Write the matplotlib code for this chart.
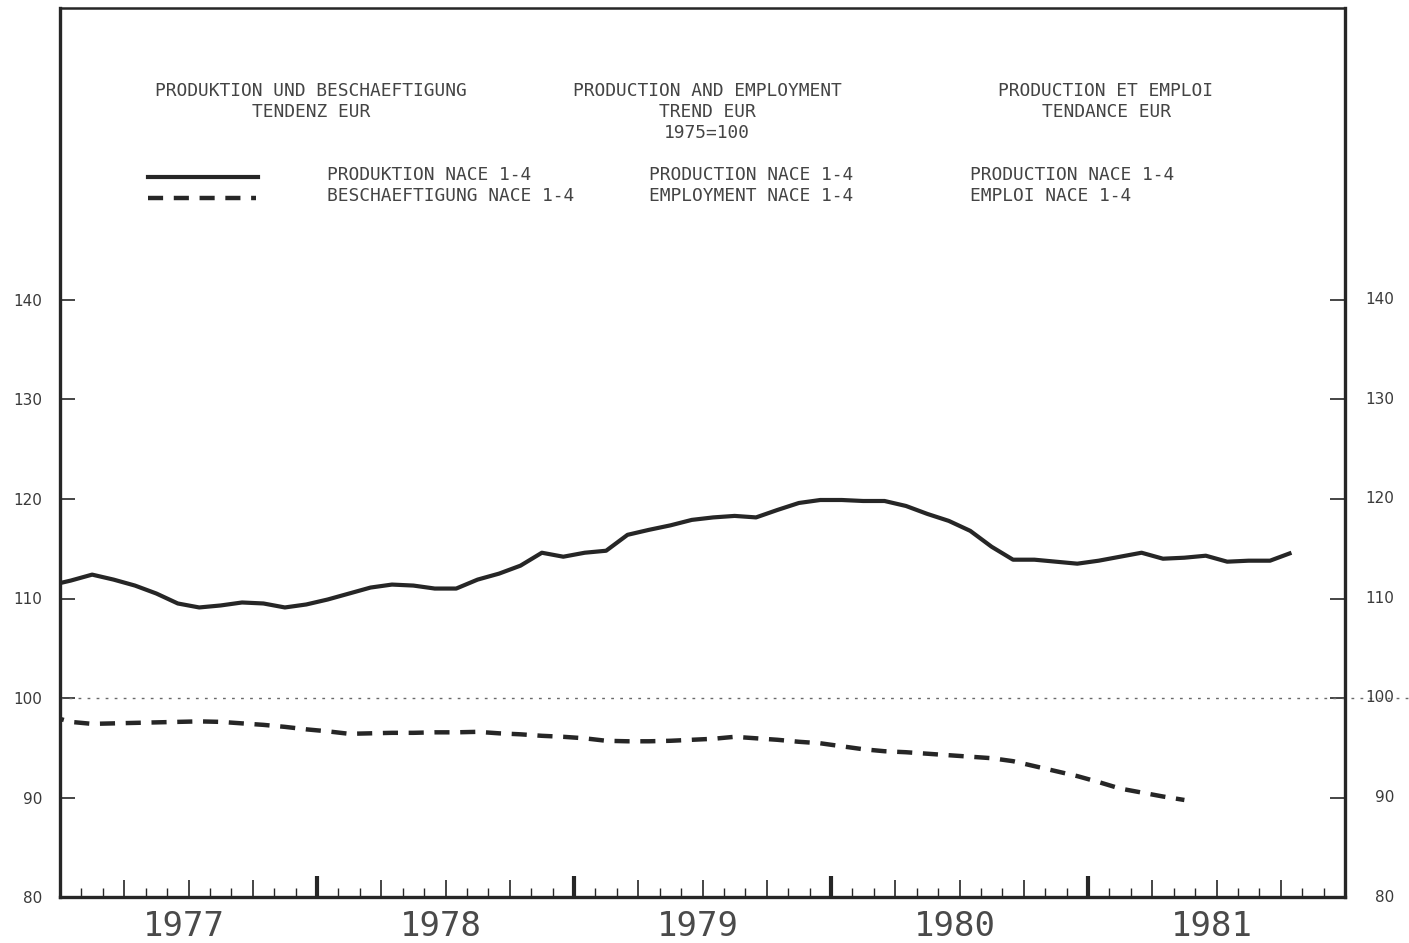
import numpy as np
import matplotlib
matplotlib.use("Agg")
import matplotlib.pyplot as plt
from matplotlib.lines import Line2D
from matplotlib.transforms import blended_transform_factory

# monthly trend values, first value = Dec 1976, plotted at mid-month
production = [111.3, 111.8, 112.4, 111.9, 111.3, 110.5, 109.5, 109.1, 109.3, 109.6, 109.5, 109.1, 109.4,
              109.9, 110.5, 111.1, 111.4, 111.3, 111.0, 111.0, 111.9, 112.5, 113.3, 114.6, 114.2,
              114.6, 114.8, 116.4, 116.9, 117.35, 117.9, 118.15, 118.3, 118.15, 118.9, 119.6, 119.9,
              119.9, 119.8, 119.8, 119.3, 118.5, 117.8, 116.8, 115.2, 113.9, 113.9, 113.7, 113.5,
              113.8, 114.2, 114.6, 114.0, 114.1, 114.3, 113.7, 113.8, 113.8, 114.6]
employment = [98.2, 97.6, 97.4, 97.45, 97.5, 97.55, 97.6, 97.65, 97.6, 97.45, 97.3, 97.1, 96.85,
              96.65, 96.4, 96.45, 96.5, 96.5, 96.55, 96.55, 96.6, 96.45, 96.35, 96.2, 96.1,
              95.95, 95.7, 95.65, 95.65, 95.7, 95.8, 95.9, 96.1, 95.95, 95.8, 95.6, 95.45,
              95.15, 94.85, 94.65, 94.55, 94.4, 94.25, 94.1, 93.95, 93.65, 93.15, 92.65, 92.15,
              91.55, 90.9, 90.5, 90.1, 89.75]
years = ["1977", "1978", "1979", "1980", "1981"]
yticks = [80, 90, 100, 110, 120, 130, 140]

titles = [
    ("PRODUKTION UND BESCHAEFTIGUNG\nTENDENZ EUR", 311),
    ("PRODUCTION AND EMPLOYMENT\nTREND EUR\n1975=100", 707),
    ("PRODUCTION ET EMPLOI\nTENDANCE EUR", 1106),
]
legend_cols = [
    ("PRODUKTION NACE 1-4", "BESCHAEFTIGUNG NACE 1-4", 327),
    ("PRODUCTION NACE 1-4", "EMPLOYMENT NACE 1-4", 649),
    ("PRODUCTION NACE 1-4", "EMPLOI NACE 1-4", 970),
]

W, H = 1409, 943
INK = "#262626"
TXT = "#444444"
MONO = "DejaVu Sans Mono"

fig = plt.figure(figsize=(W / 100, H / 100), dpi=100)
fig.patch.set_facecolor("white")
ax = fig.add_axes([60 / W, 46 / H, 1285 / W, 889 / H])
ax.set_xlim(0, 60)
ax.set_ylim(80, 80 + 889 / 9.95)

def fx(px):
    return px / W

def fy(py):
    return 1 - py / H

x_prod = np.arange(len(production)) - 0.5
x_emp = np.arange(len(employment)) - 0.5
ax.plot(x_prod, production, color=INK, lw=3.0, solid_joinstyle="round", solid_capstyle="butt")
ax.plot(x_emp, employment, color=INK, lw=3.2, linestyle=(0, (3.4, 2.4)), dash_capstyle="butt")

# reference line at 100, runs past the frame to the right edge
ax.axhline(100, xmin=0, xmax=(W - 60) / 1285, color="#6a6a6a", lw=1.0,
           linestyle=(0, (2.0, 4.5)), clip_on=False)

# frame
for side in ["left", "right", "bottom"]:
    ax.spines[side].set_linewidth(2.4)
ax.spines["top"].set_linewidth(1.8)
for sp in ax.spines.values():
    sp.set_color(INK)

# x ticks: quarters major, months minor, years drawn heavier
ax.set_xticks(np.arange(3, 60, 3))
ax.set_xticks(np.arange(1, 60, 1), minor=True)
ax.tick_params(axis="x", which="major", direction="in", length=12.5, width=1.2, color=INK,
               labelbottom=False)
ax.tick_params(axis="x", which="minor", direction="in", length=6.5, width=1.0, color=INK)
tick_h = 21 / 9.95
ax.vlines([12, 24, 36, 48], 80, 80 + tick_h, color=INK, lw=3.0)

trans_x = blended_transform_factory(ax.transData, fig.transFigure)
for k, yr in enumerate(years):
    ax.text(5.8 + 12 * k, fy(926), yr, transform=trans_x, ha="center", va="center",
            fontsize=24.5, family=MONO, color="#4a4a4a")

# y ticks both sides, labels right-aligned on both sides
ax.set_yticks(yticks)
ax.set_yticklabels([str(v) for v in yticks])
ax.tick_params(axis="y", direction="in", length=11, width=1.2, color=INK, right=True,
               labelsize=11, labelcolor="#3a3a3a", pad=13)
trans_y = blended_transform_factory(fig.transFigure, ax.transData)
for v in yticks:
    ax.text(fx(1394), v, str(v), transform=trans_y, ha="right", va="center",
            fontsize=11, color="#3a3a3a")

# header
for text, cx in titles:
    fig.text(fx(cx), fy(82), text, ha="center", va="top", fontsize=12.9, family=MONO,
             color=TXT, linespacing=1.22, multialignment="center")

for top, bottom, lx in legend_cols:
    fig.text(fx(lx), fy(175), top, ha="left", va="center", fontsize=12.9, family=MONO, color=TXT)
    fig.text(fx(lx), fy(196), bottom, ha="left", va="center", fontsize=12.9, family=MONO, color=TXT)

fig.add_artist(Line2D([fx(148), fx(258)], [fy(177), fy(177)], color=INK, lw=3.0))
fig.add_artist(Line2D([fx(148), fx(256)], [fy(198), fy(198)], color=INK, lw=3.2,
                      linestyle=(0, (3.4, 2.4))))

fig.savefig("out.png", dpi=100, facecolor="white")
